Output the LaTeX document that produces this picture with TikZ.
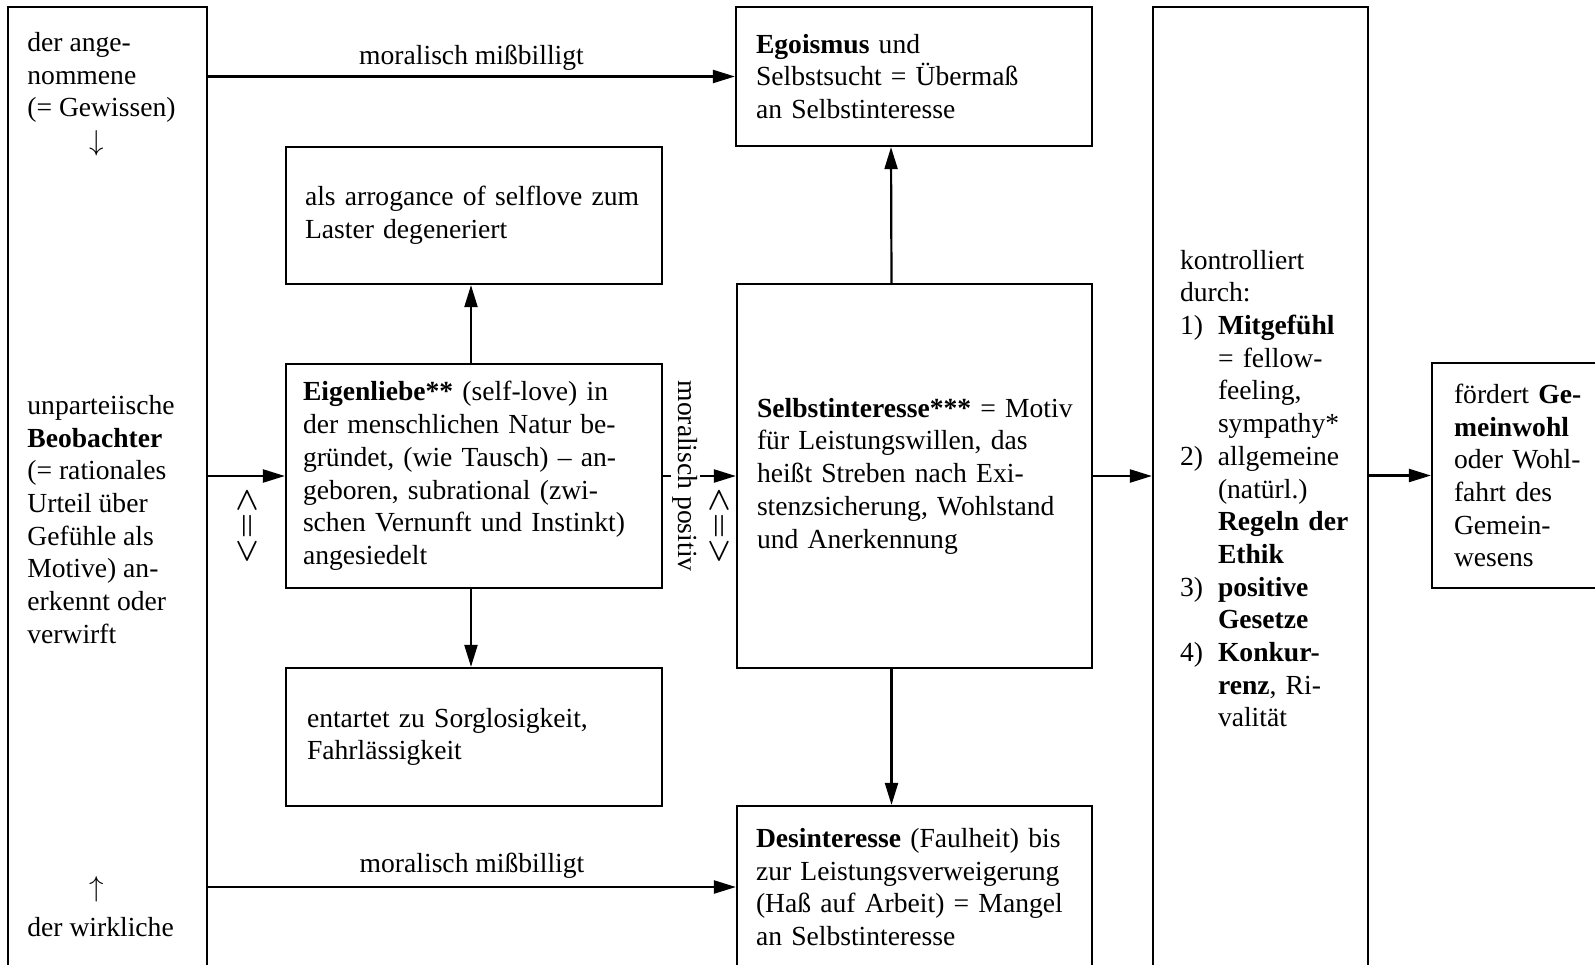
\documentclass[tikz,border=0pt]{standalone}
\usepackage{fontspec}
\setmainfont{Liberation Serif}
\usetikzlibrary{arrows.meta}
\tikzset{
  every node/.style={font=\fontsize{13.8}{16.35}\selectfont},
  frame/.style={draw, line width=1.1pt, rectangle, inner ysep=0pt, align=left},
  conn/.style={line width=1.1pt, -{Triangle[length=11pt,width=6.5pt]}},
  plain/.style={inner sep=0pt, align=left},
  lbl/.style={inner sep=0pt},
  eqsign/.style={inner sep=0pt, rotate=-90, font=\fontsize{14.5}{17}\selectfont\boldmath},
}
\begin{document}
\begin{tikzpicture}[x=0.5pt,y=-0.5pt]
\clip (0,0) rectangle (1595,964);
\fill[white] (0,0) rectangle (1595,964);

% boxes
\node[frame, minimum width=99.5pt, minimum height=484pt] (L) at (107.5,491) {};
\node[frame, text width=158pt, inner xsep=10pt, minimum height=69.5pt] (ego) at (914,76.5)
  {\textbf{Egoismus} und\\Selbstsucht = Übermaß\\an Selbstinteresse};
\node[frame, text width=169pt, inner xsep=9.5pt, minimum height=68.5pt] (arr) at (474,215.5)
  {als arrogance of selflove zum\\Laster degeneriert};
\node[frame, text width=171pt, inner xsep=8.5pt, minimum height=112pt] (eig) at (474,476)
  {\mbox{\textbf{Eigenliebe**} (self-love) in}\\\mbox{der menschlichen Natur be-}\\\mbox{gründet, (wie Tausch) -- an-}\\\mbox{geboren, subrational (zwi-}\\\mbox{schen Vernunft und Instinkt)}\\angesiedelt};
\node[frame, text width=167pt, inner xsep=10.5pt, minimum height=69pt] (ent) at (474,737)
  {entartet zu Sorglosigkeit,\\Fahrlässigkeit};
\node[frame, text width=157.5pt, inner xsep=10pt, minimum height=192pt] (sel) at (914.5,476)
  {\mbox{\textbf{Selbstinteresse***} = Motiv}\\\mbox{für Leistungswillen, das}\\\mbox{heißt Streben nach Exi-}\\\mbox{stenzsicherung, Wohlstand}\\und Anerkennung};
\node[frame, text width=158.5pt, inner xsep=9.5pt, minimum height=81pt] (des) at (914.5,887)
  {\mbox{\textbf{Desinteresse} (Faulheit) bis}\\\mbox{zur Leistungsverweigerung}\\\mbox{(Haß auf Arbeit) = Mangel}\\an Selbstinteresse};
\node[frame, text width=80.5pt, inner xsep=13.5pt, minimum height=484.5pt] (kon) at (1260.5,491.5)
  {\begin{tabular}{@{}l@{\hspace{7.5pt}}l@{}}
   \multicolumn{2}{@{}l@{}}{kontrolliert}\\
   \multicolumn{2}{@{}l@{}}{durch:}\\
   1) & \textbf{Mitgefühl}\\
      & = fellow-\\
      & feeling,\\
      & sympathy*\\
   2) & allgemeine\\
      & (natürl.)\\
      & \textbf{Regeln der}\\
      & \textbf{Ethik}\\
   3) & \textbf{positive}\\
      & \textbf{Gesetze}\\
   4) & \textbf{Konkur-}\\
      & \textbf{renz}, Ri-\\
      & valität
   \end{tabular}};
\node[frame, text width=72pt, inner xsep=11pt, minimum height=112.5pt] (foe) at (1526,475.5)
  {fördert \textbf{Ge-}\\\textbf{meinwohl}\\oder Wohl-\\fahrt des\\Gemein-\\wesens};

% texts in the left box
\node[plain, anchor=west] (t1) at (27,77.5) {der ange-\\nommene\\(= Gewissen)};
\node[lbl] (t2) at (97,143) {$\downarrow$};
\node[plain, anchor=west] (t3) at (27,519.5) {unparteiische\\\textbf{Beobachter}\\(= rationales\\Urteil über\\Gefühle als\\Motive) an-\\erkennt oder\\verwirft};
\node[lbl] (t4) at (97,889) {$\uparrow$};
\node[plain, anchor=west] (t5) at (27,927) {der wirkliche};

% equivalence signs
\node[eqsign] (eq1) at (247,526) {$<=>$};
\node[eqsign] (eq2) at (719,526) {$<=>$};

% connectors
\draw[conn] (L.east |- ego.west) -- node[midway, above=2.5pt, lbl] (m1) {moralisch mißbilligt} (ego.west);
\draw[conn] (L.east |- eig.west) -- (eig.west);
\draw[conn] (eig.east) -- node[pos=0.307, rotate=-90, fill=white, inner sep=1pt] (mp) {moralisch positiv} (sel.west);
\draw[conn] (sel.east) -- (kon.west |- sel.east);
\draw[conn] (kon.east |- foe.west) -- (foe.west);
\draw[conn] ([xshift=-1.5pt]eig.north) -- ([xshift=-1.5pt]arr.south);
\draw[conn] ([xshift=-1.5pt]eig.south) -- ([xshift=-1.5pt]ent.north);
\draw[conn] ([xshift=-11.5pt]sel.north) -- ([xshift=-11.5pt]ego.south);
\draw[conn] ([xshift=-11.5pt]sel.south) -- ([xshift=-11.5pt]des.north);
\draw[conn] (L.east |- des.west) -- node[midway, above=3.5pt, lbl] (m2) {moralisch mißbilligt} (des.west);
\end{tikzpicture}
\end{document}
